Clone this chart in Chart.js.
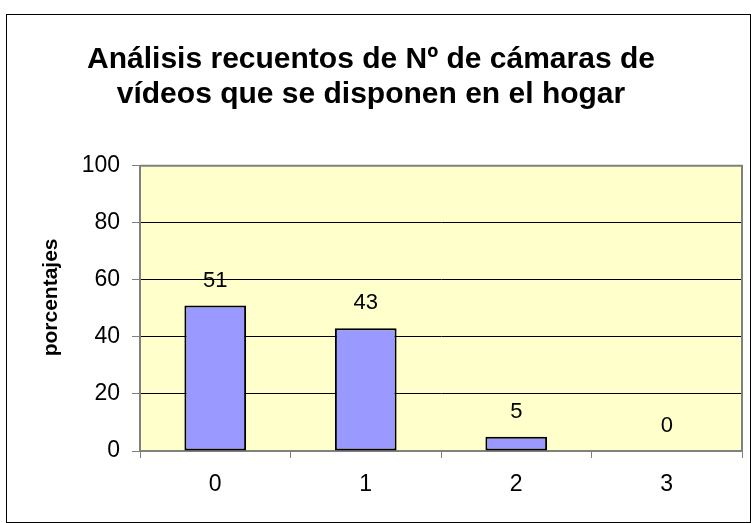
<!DOCTYPE html>
<html>
<head>
<meta charset="utf-8">
<script src="https://cdn.jsdelivr.net/npm/chart.js@4"></script>
<style>
html,body{margin:0;padding:0;background:#fff;}
canvas{display:block;}
</style>
</head>
<body>
<canvas id="c" width="751" height="523"></canvas>
<script>
const categories = ['0', '1', '2', '3'];
const porcentajes = [51, 43, 5, 0];
const yTicks = [0, 20, 40, 60, 80, 100];
const titleLines = ['Análisis recuentos de Nº de cámaras de', 'vídeos que se disponen en el hogar'];
const yTitle = 'porcentajes';

const FONT = '"Liberation Sans", Arial, sans-serif';

const framePlugin = {
  id: 'frame',
  beforeDraw(chart) {
    const {ctx, chartArea: a} = chart;
    ctx.save();
    ctx.fillStyle = '#fff';
    ctx.fillRect(0, 0, chart.width, chart.height);
    ctx.fillStyle = '#FFFFCC';
    ctx.fillRect(a.left, a.top, a.right - a.left, a.bottom - a.top);
    ctx.strokeStyle = '#000';
    ctx.lineWidth = 1;
    ctx.strokeRect(6.5, 14.5, 744, 508);
    ctx.restore();
  },
  beforeDatasetsDraw(chart) {
    const {ctx, chartArea: a} = chart;
    ctx.save();
    ctx.strokeStyle = '#808080';
    ctx.lineWidth = 2;
    ctx.beginPath();
    ctx.moveTo(a.left, a.top);
    ctx.lineTo(a.right, a.top);
    ctx.lineTo(a.right, a.bottom);
    ctx.stroke();
    ctx.restore();
  },
  afterDatasetsDraw(chart) {
    const {ctx, chartArea: a} = chart;
    const meta = chart.getDatasetMeta(0);
    ctx.save();
    ctx.fillStyle = '#000';
    ctx.font = '22px ' + FONT;
    ctx.textAlign = 'center';
    ctx.textBaseline = 'middle';
    meta.data.forEach((bar, i) => {
      ctx.fillText(String(chart.data.datasets[0].data[i]), bar.x, bar.y - 25);
    });
    // y axis title
    ctx.font = 'bold 21px ' + FONT;
    ctx.translate(51, (a.top + a.bottom) / 2 - 11);
    ctx.rotate(-Math.PI / 2);
    ctx.fillText(yTitle, 0, 0);
    ctx.restore();
  }
};

new Chart(document.getElementById('c'), {
  type: 'bar',
  data: {
    labels: categories,
    datasets: [{
      data: porcentajes,
      backgroundColor: '#9999FF',
      borderColor: '#000',
      borderWidth: 2,
      borderSkipped: false,
      barPercentage: 0.41,
      categoryPercentage: 1
    }]
  },
  options: {
    responsive: false,
    animation: false,
    devicePixelRatio: 1,
    layout: {padding: {left: 0, right: 9, top: 0, bottom: 0}},
    plugins: {
      legend: {display: false},
      tooltip: {enabled: false},
      title: {
        display: true,
        text: titleLines,
        color: '#000',
        font: {family: FONT, size: 30, weight: 'bold', lineHeight: 1.18},
        padding: {top: 42, bottom: 53}
      }
    },
    scales: {
      x: {
        afterFit(s) { s.height = 72; },
        grid: {
          offset: true,
          drawOnChartArea: false,
          drawTicks: true,
          tickLength: 7,
          tickColor: '#808080',
          tickWidth: 1
        },
        border: {display: true, color: '#808080', width: 2},
        ticks: {color: '#000', font: {family: FONT, size: 23}, padding: 13}
      },
      y: {
        min: 0,
        max: 100,
        afterFit(s) { s.width = 140; },
        afterBuildTicks(s) { s.ticks = yTicks.map(v => ({value: v})); },
        grid: {
          color: '#000',
          lineWidth: 1,
          tickLength: 8,
          tickColor: '#808080',
          tickWidth: 1
        },
        border: {display: true, color: '#808080', width: 2},
        ticks: {color: '#000', font: {family: FONT, size: 23}, padding: 12}
      }
    }
  },
  plugins: [framePlugin]
});
</script>
</body>
</html>
